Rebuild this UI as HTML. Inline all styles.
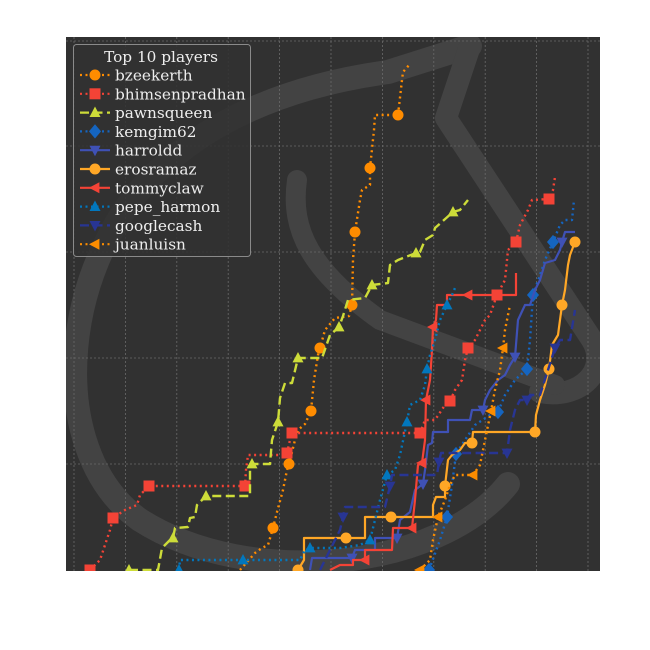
<!DOCTYPE html>
<html><head><meta charset="utf-8">
<style>
html,body{margin:0;padding:0;background:#fff;}
svg{display:block;}
text{font-family:"DejaVu Serif","Liberation Serif",serif;}
</style></head>
<body>
<svg id="chart" width="650" height="650" viewBox="0 0 650 650">
  <defs><clipPath id="plotclip"><rect x="66" y="37" width="534" height="534"/></clipPath></defs>
  <rect x="66" y="37" width="534" height="534" fill="#313131"/>
  <g clip-path="url(#plotclip)" fill="none" stroke="#434343" stroke-linecap="round" stroke-linejoin="round">
    <path d="M 508 484 C 440 570, 250 590, 140 520 C 40 450, 60 250, 170 160 C 240 100, 330 80, 388 72 L 470 46" stroke-width="24"/>
    <path d="M 470 46 L 446 118 L 592 340 C 610 370, 580 400, 540 392" stroke-width="22"/>
    <path d="M 297 180 C 290 230, 310 270, 380 320 L 555 385" stroke-width="20"/>
  </g>
  <g id="grid"></g>
  <g id="series" clip-path="url(#plotclip)"></g>
  <g id="legend"></g>
</svg>
<script>
const NS = "http://www.w3.org/2000/svg";
// data (chart units: x = time, y = rating gain)
const seriesNames = ["bzeekerth","bhimsenpradhan","pawnsqueen","kemgim62","harroldd","erosramaz","tommyclaw","pepe_harmon","googlecash","juanluisn"];
const bzeekerthX = [174,189,196,202,207,211,217,221,223,229,232,239,245,248,252,254,259,269,283,286,287,289,294,296,304,304,308,309,332,336,337,344];
const bzeekerthY = [0,17,22,25,42,58,80,100,106,130,140,146,159,190,215,222,240,252,254,265,310,338,370,380,385,402,440,455,455,490,498,506];
const bhimsenpradhanX = [24,34,39,44,47,59,71,74,83,179,180,182,219,221,224,226,354,359,369,379,384,389,396,399,402,409,419,424,431,439,442,450,454,462,466,483,487,489];
const bhimsenpradhanY = [0,10,25,40,52,60,65,75,84,84,100,115,115,117,130,137,137,150,150,165,169,180,190,210,222,230,250,255,275,290,320,328,345,360,370,371,380,393];
const pawnsqueenX = [63,92,96,104,107,109,122,124,129,131,140,184,184,186,204,206,212,214,219,226,232,256,264,273,277,282,299,306,322,324,332,350,354,359,367,369,387,394,402];
const pawnsqueenY = [0,0,22,30,32,42,43,52,53,65,74,74,100,106,106,130,148,172,187,187,212,212,235,243,254,270,272,285,287,305,310,317,318,330,335,342,358,360,370];
const kemgim62X = [363,374,381,386,390,399,409,424,432,439,449,461,464,467,474,479,487,494,499,506,508];
const kemgim62Y = [0,30,53,85,116,130,145,155,158,175,190,201,230,275,295,310,328,345,350,350,370];
const harrolddX = [244,246,286,289,309,309,331,334,344,349,357,359,362,366,367,382,382,404,406,417,419,424,432,439,444,449,452,459,464,469,474,479,489,494,496,499,509];
const harrolddY = [0,12,12,20,20,32,32,50,58,80,86,100,125,127,138,138,150,150,160,160,170,180,190,195,205,213,250,265,265,280,290,307,310,320,328,338,338];
const erosramazX = [232,238,238,280,299,299,325,367,367,370,379,379,382,386,394,399,406,407,469,470,474,479,483,486,492,496,499,502,504,509];
const erosramazY = [0,10,32,32,32,53,53,53,65,73,73,84,110,115,120,127,127,138,138,155,170,185,201,225,235,265,280,305,315,328];
const tommyclawX = [264,274,287,287,299,299,326,327,346,349,352,356,359,360,364,366,367,370,371,381,381,402,450,450];
const tommyclawY = [0,5,5,10,10,20,20,42,42,70,105,107,130,170,190,220,243,250,265,265,275,275,275,297];
const pepeHarmonX = [113,114,177,234,239,244,274,294,304,309,314,321,329,334,341,344,354,359,361,364,369,374,381,386,389];
const pepeHarmonY = [0,10,10,10,20,22,22,25,30,50,70,95,100,115,148,165,170,185,201,215,230,250,265,275,282];
const googlecashX = [254,264,274,277,279,319,324,326,371,373,375,441,444,449,454,461,464,474,482,489,494,504,509];
const googlecashY = [0,20,40,53,63,63,84,95,95,108,117,117,140,160,170,170,175,175,200,222,230,230,260];
const juanluisnX = [354,364,367,372,379,384,389,407,414,419,425,429,434,437,439,444];
const juanluisnY = [0,10,30,53,70,85,95,95,105,130,159,180,200,222,240,265];
const markerIdx = [[4,8,12,15,19,21,25,28],[0,4,8,9,13,15,16,20,24,28,31,35],[0,4,10,13,16,20,23,27,31,36],[0,2,4,8,11,13,16],[2,6,10,19,25,34],[0,3,6,11,16,18,22,25,29],[4,8,11,13,16,21],[0,2,5,8,11,14,18,22],[3,6,9,11,15,19],[0,3,7,10,13]];
const xTicks = [8,59.4,110.8,162.2,213.6,265,316.4,367.8,419.2,470.6,522];
const yTicks = [106,212,318,424,529];

const allX = [bzeekerthX,bhimsenpradhanX,pawnsqueenX,kemgim62X,harrolddX,erosramazX,tommyclawX,pepeHarmonX,googlecashX,juanluisnX];
const allY = [bzeekerthY,bhimsenpradhanY,pawnsqueenY,kemgim62Y,harrolddY,erosramazY,tommyclawY,pepeHarmonY,googlecashY,juanluisnY];
const colors = ["#ff8c00","#f44336","#cddc39","#1565c0","#3f51b5","#ffa726","#f44336","#0277bd","#283593","#fb8c00"];
const dashes = ["2,3.5","2,3.5","9,4.5","2,3.5",null,null,null,"2,3.5","9,4.5","2,3.5"];
const markers = ["circle","square","triUp","diamond","triDown","circle","triLeft","triUp","triDown","triLeft"];

const X = v => 66 + v;
const Y = v => 570 - v;

function mk(tag, attrs, parent){const e=document.createElementNS(NS,tag);for(const k in attrs)e.setAttribute(k,attrs[k]);parent.appendChild(e);return e;}

const grid = document.getElementById("grid");
xTicks.forEach(t=>{
  const l=mk("line",{x1:X(t),x2:X(t),y1:37,y2:571,stroke:"#6a6a6a","stroke-width":0.8,"stroke-dasharray":"2,2"},grid);
  
  
});
yTicks.forEach(t=>{
  const l=mk("line",{x1:66,x2:600,y1:Y(t),y2:Y(t),stroke:"#6a6a6a","stroke-width":0.8,"stroke-dasharray":"2,2"},grid);
  
  
});

function marker(type,cx,cy,color,parent){
  const s=5.5;let e;
  if(type==="circle") e=mk("circle",{cx:cx,cy:cy,r:s},parent);
  else if(type==="square") e=mk("rect",{x:cx-s,y:cy-s,width:2*s,height:2*s},parent);
  else {
    let p;
    if(type==="triUp") p=[[0,-s*1.1],[-s,s*0.8],[s,s*0.8]];
    else if(type==="triDown") p=[[0,s*1.1],[-s,-s*0.8],[s,-s*0.8]];
    else if(type==="triLeft") p=[[-s*1.1,0],[s*0.8,-s],[s*0.8,s]];
    else p=[[0,-s*1.3],[s*1.1,0],[0,s*1.3],[-s*1.1,0]];
    e=mk("polygon",{points:p.map(q=>(cx+q[0])+","+(cy+q[1])).join(" ")},parent);
  }
  e.setAttribute("fill",color);
  return e;
}

const sg=document.getElementById("series");
seriesNames.forEach((name,i)=>{
  const g=mk("g",{},sg);
  
  
  const xs=allX[i], ys=allY[i];
  const pts=xs.map((v,j)=>X(v)+","+Y(ys[j])).join(" ");
  const a={points:pts,fill:"none",stroke:colors[i],"stroke-width":dashes[i]?2.4:2.2,"stroke-linejoin":"round"};
  if(dashes[i]) a["stroke-dasharray"]=dashes[i];
  const pl=mk("polyline",a,g);
  
  
  markerIdx[i].forEach(j=>{
    if(j>=xs.length) return;
    const m=marker(markers[i],X(xs[j]),Y(ys[j]),colors[i],g);
    
    
  });
});

// legend
const lg=document.getElementById("legend");
const box=mk("rect",{x:73.5,y:44.5,width:177,height:212,rx:3,fill:"#313131","fill-opacity":0.85,stroke:"#8a8a8a","stroke-width":1},lg);


const tt=mk("text",{x:161,y:62,"font-size":15.3,fill:"#eeeeee","text-anchor":"middle"},lg);
tt.textContent="Top 10 players";


seriesNames.forEach((name,i)=>{
  const cy=75+i*18.8;
  const g=mk("g",{},lg);
  
  
  const a={x1:80,x2:110,y1:cy,y2:cy,stroke:colors[i],"stroke-width":2.2};
  if(dashes[i]) a["stroke-dasharray"]=dashes[i];
  mk("line",a,g);
  marker(markers[i],95,cy,colors[i],g);
  const t=mk("text",{x:115,y:cy+5.5,"font-size":15.3,fill:"#eeeeee"},g);
  t.textContent=name;
});
</script>
</body></html>
